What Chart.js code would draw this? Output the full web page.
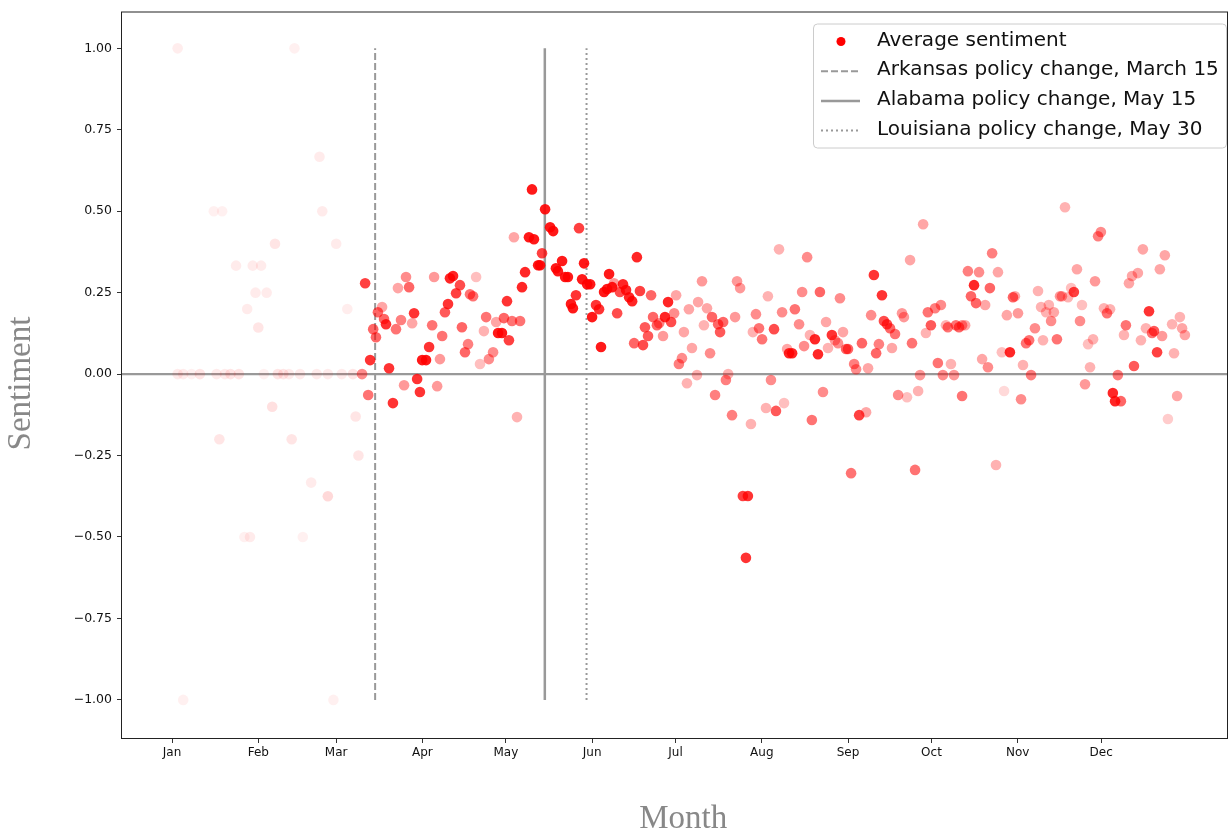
<!DOCTYPE html>
<html>
<head>
<meta charset="utf-8">
<title>Average sentiment by month</title>
<script src="https://cdn.jsdelivr.net/npm/chart.js@4.4.1/dist/chart.umd.min.js"></script>
<style>
  html, body { margin: 0; padding: 0; background: #fff; }
  #wrap { width: 1229px; height: 831px; }
</style>
</head>
<body>
<div id="wrap"><canvas id="sentimentChart" width="1229" height="831"></canvas></div>
<script>
// Day of year for each daily average
const days = [
  3, 3, 5, 5, 8, 11, 16, 17, 18, 19,
  20, 22, 24, 25, 27, 28, 29, 30, 31, 32,
  33, 34, 35, 37, 38, 39, 41, 43, 44, 45,
  47, 48, 51, 53, 54, 55, 57, 57, 59, 60,
  62, 64, 66, 67, 68,
  69.3, 70.4, 71.5, 72.2, 73.3, 74.3, 75.0, 76.5, 77.2, 77.9,
  79.0, 80.4, 81.5, 82.2, 83.3, 84.4, 85.1, 86.2, 87.3, 88.0,
  89.1, 90.1, 90.9, 92.3, 93.4, 94.5, 95.2, 96.3, 97.3, 98.1,
  99.1, 100.2, 100.9, 102.0, 103.1, 104.5, 105.2, 106.3, 107.4, 108.1,
  109.2, 110.3, 111.7, 113.1, 113.9, 114.9, 116.4, 117.5, 118.2, 119.6,
  120.3, 121.4, 122.1, 123.2, 123.9, 125.0, 126.1, 126.8, 127.9, 129.3,
  130.4, 131.1, 132.6, 133.3, 134.0, 135.1, 136.9, 138.0, 139.0, 139.7,
  141.2, 142.3, 143.3, 144.4, 145.1, 146.2, 147.3, 148.4, 149.1, 150.2,
  151.3, 152.0, 153.4, 154.5, 155.2, 156.3, 157.4, 158.1, 159.2, 159.9,
  161.0, 162.0, 163.1, 164.2, 165.3, 166.4, 167.1, 168.1, 169.2, 170.3,
  171.0, 172.1, 173.2, 173.9, 175.3, 176.1, 177.5, 178.2, 179.3, 180.4,
  181.5, 182.2, 183.2, 184.3, 185.0, 186.1, 186.8, 187.9, 189.7, 190.1,
  191.5, 192.2, 193.3, 194.4, 195.1, 196.2, 197.3, 198.0, 199.1, 200.1,
  200.9, 202.3, 203.4, 204.1, 205.2, 206.2, 207.3, 208.0, 209.1, 209.8,
  210.9, 212.0, 213.1, 214.5, 215.2, 216.3, 217.4, 218.1, 219.2, 220.3,
  221.0, 222.1, 222.8, 223.9, 224.9, 226.4, 227.5, 228.2, 229.3, 230.3,
  231.0, 232.1, 233.2, 233.9, 235.0, 236.1, 236.8, 238.2, 239.3, 240.4,
  241.1, 242.2, 243.3, 244.0, 245.1, 246.2, 246.9, 248.0, 249.0, 250.5,
  251.2, 252.3, 253.3, 254.1, 255.1, 256.2, 256.9, 258.0, 259.1, 259.8,
  260.9, 262.0, 263.4, 264.1, 265.2, 266.3, 267.0, 268.1, 269.2, 269.9,
  271.0, 272.0, 272.7, 273.8, 275.3, 276.3, 277.4, 278.1, 279.2, 279.9,
  281.0, 282.1, 282.8, 283.9, 285.0, 285.0, 286.1, 287.1, 288.2, 289.3,
  290.0, 291.1, 292.2, 293.3, 294.3, 295.0, 295.8, 297.2, 297.9, 299.3,
  300.1, 301.1, 302.2, 303.3, 304.0, 305.1, 306.2, 306.9, 308.0, 309.1,
  309.8, 311.2, 312.3, 313.4, 314.1, 315.2, 316.2, 317.0, 318.0, 319.1,
  320.2, 320.9, 322.0, 323.1, 324.2, 325.2, 326.3, 327.4, 328.1, 329.2,
  330.3, 331.0, 332.1, 332.8, 333.9, 334.9, 336.0, 337.1, 338.2, 339.2,
  340.0, 341.0, 342.1, 343.2, 343.9, 345.0, 346.1, 346.8, 348.2, 349.3,
  350.0, 351.1, 352.2, 353.3, 354.0, 355.1, 356.1, 356.9, 357.9, 359.0,
  360.5, 361.2, 362.3, 363.3, 364.1, 365.1
];

// Average sentiment for that day
const sentiment = [
  1.0, 0, 0, -1.0, 0, 0, 0.5, 0, -0.2, 0.5,
  0, 0, 0.333, 0, -0.5, 0.2, -0.5, 0.333, 0.25, 0.143,
  0.333, 0, 0.25, -0.1, 0.4, 0, 0, 0, -0.2, 1.0,
  0, -0.5, -0.333, 0, 0.667, 0.5, 0, -0.375, -1.0, 0.4,
  0, 0.2, 0, -0.13, -0.25,
  0.0, 0.279, -0.064, 0.043, 0.138, 0.113, 0.19, 0.206, 0.169, 0.153,
  0.018, -0.089, 0.138, 0.264, 0.166, -0.034, 0.298, 0.267, 0.156, 0.187,
  -0.015, -0.055, 0.043, 0.043, 0.083, 0.15, 0.298, -0.037, 0.046, 0.117,
  0.19, 0.215, 0.294, 0.301, 0.248, 0.273, 0.144, 0.067, 0.092, 0.245,
  0.239, 0.298, 0.031, 0.132, 0.175, 0.046, 0.067, 0.16, 0.126, 0.126,
  0.172, 0.224, 0.104, 0.163, 0.42, -0.132, 0.163, 0.267, 0.313, 0.42,
  0.567, 0.414, 0.334, 0.334, 0.371, 0.506, 0.451, 0.439, 0.325, 0.316,
  0.347, 0.298, 0.298, 0.215, 0.202, 0.242, 0.448, 0.291, 0.34, 0.276,
  0.276, 0.175, 0.212, 0.199, 0.083, 0.252, 0.261, 0.307, 0.267, 0.279,
  0.187, 0.252, 0.276, 0.258, 0.236, 0.224, 0.095, 0.359, 0.255, 0.089,
  0.144, 0.117, 0.242, 0.175, 0.15, 0.156, 0.117, 0.175, 0.221, 0.16,
  0.187, 0.242, 0.031, 0.049, 0.129, -0.028, 0.199, 0.08, -0.003, 0.221,
  0.285, 0.15, 0.202, 0.064, 0.175, -0.064, 0.153, 0.129, 0.16, -0.018,
  0, -0.126, 0.175, 0.285, 0.264, -0.374, -0.564, -0.374, -0.153, 0.129,
  0.184, 0.141, 0.107, -0.104, 0.239, -0.018, 0.138, -0.113, 0.383, 0.19,
  -0.089, 0.077, 0.064, 0.064, 0.199, 0.153, 0.252, 0.086, 0.359, 0.12,
  -0.141, 0.107, 0.061, 0.252, -0.055, 0.16, 0.08, 0.12, 0.104, 0.095,
  0.233, 0.129, 0.077, 0.077, -0.304, 0.031, 0.015, -0.126, 0.095, -0.117,
  0.018, 0.181, 0.304, 0.064, 0.092, 0.242, 0.163, 0.153, 0.141, 0.08,
  0.123, -0.064, 0.187, 0.175, -0.071, 0.35, 0.095, -0.294, -0.052, -0.003,
  0.46, 0.126, 0.19, 0.15, 0.202, 0.034, 0.212, -0.003, 0.15, 0.144,
  0.031, -0.003, 0.15, 0.144, 0.15, -0.067, 0.15, 0.316, 0.239, 0.273,
  0.218, 0.313, 0.046, 0.212, 0.021, 0.264, 0.371, -0.279, 0.313, 0.067,
  -0.052, 0.181, 0.067, 0.236, 0.239, 0.187, -0.077, 0.028, 0.095, 0.104,
  -0.003, 0.141, 0.255, 0.206, 0.104, 0.19, 0.212, 0.163, 0.19, 0.107,
  0.239, 0.239, 0.512, 0.236, 0.264, 0.252, 0.322, 0.163, 0.212, -0.031,
  0.092, 0.021, 0.107, 0.285, 0.423, 0.436, 0.202, 0.187, 0.199, -0.058,
  -0.083, -0.003, -0.083, 0.12, 0.15, 0.279, 0.301, 0.025, 0.31, 0.104,
  0.383, 0.141, 0.193, 0.126, 0.132, 0.067, 0.322, 0.117, 0.365, -0.138,
  0.153, 0.064, -0.067, 0.175, 0.141, 0.12
];

// Opacity of each dot (stronger = more tweets that day)
const dotAlpha = [
  0.07, 0.08, 0.08, 0.06, 0.06, 0.1, 0.06, 0.08, 0.1, 0.06,
  0.08, 0.1, 0.08, 0.1, 0.06, 0.08, 0.08, 0.08, 0.08, 0.1,
  0.08, 0.06, 0.08, 0.12, 0.1, 0.1, 0.1, 0.08, 0.1, 0.06,
  0.08, 0.06, 0.08, 0.08, 0.08, 0.08, 0.08, 0.15, 0.06, 0.08,
  0.08, 0.07, 0.1, 0.1, 0.1,
  0.45, 0.75, 0.55, 0.8, 0.6, 0.6, 0.6, 0.35, 0.6, 0.8,
  0.8, 0.8, 0.55, 0.35, 0.5, 0.4, 0.45, 0.6, 0.35, 0.8,
  0.8, 0.8, 0.9, 0.9, 0.8, 0.55, 0.4, 0.4, 0.4, 0.55,
  0.65, 0.8, 0.85, 0.85, 0.75, 0.7, 0.6, 0.6, 0.5, 0.55,
  0.55, 0.25, 0.25, 0.3, 0.55, 0.45, 0.45, 0.35, 0.9, 0.9,
  0.6, 0.8, 0.75, 0.55, 0.35, 0.3, 0.55, 0.85, 0.85, 0.9,
  0.9, 0.9, 0.9, 0.9, 0.75, 0.9, 0.9, 0.9, 0.9, 0.9,
  0.9, 0.9, 0.9, 0.9, 0.9, 0.8, 0.75, 0.9, 0.9, 0.9,
  0.9, 0.9, 0.8, 0.8, 0.9, 0.9, 0.9, 0.9, 0.9, 0.4,
  0.7, 0.7, 0.85, 0.85, 0.85, 0.85, 0.6, 0.85, 0.75, 0.7,
  0.65, 0.65, 0.6, 0.6, 0.6, 0.5, 0.4, 0.85, 0.85, 0.7,
  0.45, 0.35, 0.5, 0.45, 0.35, 0.3, 0.35, 0.35, 0.3, 0.35,
  0.4, 0.3, 0.35, 0.45, 0.6, 0.5, 0.6, 0.65, 0.6, 0.5,
  0.3, 0.5, 0.4, 0.4, 0.4, 0.75, 0.8, 0.8, 0.3, 0.3,
  0.45, 0.55, 0.55, 0.3, 0.3, 0.45, 0.7, 0.65, 0.3, 0.45,
  0.25, 0.35, 0.85, 0.85, 0.55, 0.45, 0.45, 0.45, 0.45, 0.3,
  0.55, 0.85, 0.85, 0.6, 0.45, 0.35, 0.3, 0.8, 0.4, 0.45,
  0.45, 0.35, 0.6, 0.6, 0.55, 0.5, 0.45, 0.75, 0.6, 0.35,
  0.35, 0.45, 0.8, 0.6, 0.5, 0.8, 0.7, 0.7, 0.6, 0.35,
  0.55, 0.45, 0.4, 0.4, 0.25, 0.35, 0.55, 0.55, 0.3, 0.4,
  0.35, 0.3, 0.55, 0.65, 0.5, 0.55, 0.45, 0.45, 0.3, 0.55,
  0.3, 0.4, 0.55, 0.6, 0.45, 0.55, 0.35, 0.5, 0.6, 0.85,
  0.6, 0.45, 0.35, 0.35, 0.45, 0.6, 0.5, 0.3, 0.35, 0.25,
  0.15, 0.35, 0.85, 0.6, 0.35, 0.4, 0.45, 0.3, 0.55, 0.55,
  0.5, 0.45, 0.3, 0.3, 0.3, 0.3, 0.3, 0.45, 0.35, 0.55,
  0.4, 0.4, 0.3, 0.3, 0.25, 0.75, 0.35, 0.45, 0.25, 0.4,
  0.25, 0.3, 0.3, 0.4, 0.5, 0.45, 0.3, 0.55, 0.3, 0.85,
  0.85, 0.5, 0.6, 0.3, 0.55, 0.35, 0.35, 0.65, 0.35, 0.3,
  0.35, 0.3, 0.8, 0.55, 0.65, 0.75, 0.35, 0.4, 0.35, 0.2,
  0.3, 0.3, 0.35, 0.3, 0.35, 0.35
];

// Axis ticks
const monthDays = [1, 32, 60, 91, 121, 152, 182, 213, 244, 274, 305, 335];
const monthLabels = ['Jan', 'Feb', 'Mar', 'Apr', 'May', 'Jun', 'Jul', 'Aug', 'Sep', 'Oct', 'Nov', 'Dec'];
const sentimentTicks = [-1, -0.75, -0.5, -0.25, 0, 0.25, 0.5, 0.75, 1];

// Policy changes (day of year)
const policyDays = [74, 135, 150];
const policyLabels = [
  'Arkansas policy change, March 15',
  'Alabama policy change, May 15',
  'Louisiana policy change, May 30'
];
const policyDash = [[7, 3], [], [2, 3]];

// Axis limits
const xLimits = [-17, 380.6];
const yLimits = [-1.117, 1.11];

const LINE_GREY = '#999999';

// Build scatter points
const points = days.map((d, i) => ({ x: d, y: sentiment[i] }));
const pointColors = dotAlpha.map(a => `rgba(255, 0, 0, ${a})`);

// Build policy line datasets
const policyDatasets = policyDays.map((d, i) => ({
    type: 'line',
    label: policyLabels[i],
    data: [{ x: d, y: -1 }, { x: d, y: 1 }],
    borderColor: LINE_GREY,
    borderWidth: i === 1 ? 2.5 : 2,
    borderDash: policyDash[i],
    pointRadius: 0,
    fill: false
}));

// Frame around the plot area
const framePlugin = {
    id: 'frame',
    afterDatasetsDraw(chart) {
        const a = chart.chartArea;
        const ctx = chart.ctx;
        ctx.save();
        ctx.strokeStyle = '#222';
        ctx.lineWidth = 1;
        ctx.strokeRect(a.left - 0.5, a.top - 0.5, a.right - a.left, a.bottom - a.top + 1);
        ctx.restore();
    }
};

// Legend box in the upper right corner
const legendBoxPlugin = {
    id: 'legendBox',
    afterDraw(chart) {
        const a = chart.chartArea;
        const ctx = chart.ctx;
        const bx = a.right - 415, by = a.top + 11, bw = 413, bh = 124;

        ctx.save();
        ctx.beginPath();
        ctx.roundRect(bx + 0.5, by + 0.5, bw, bh, 4);
        ctx.fillStyle = 'rgba(255,255,255,0.85)';
        ctx.fill();
        ctx.strokeStyle = '#cccccc';
        ctx.lineWidth = 1;
        ctx.stroke();

        const labels = ['Average sentiment'].concat(policyLabels);
        ctx.font = '20px "DejaVu Sans"';
        ctx.textBaseline = 'middle';
        ctx.fillStyle = '#111';

        labels.forEach((txt, i) => {
            const y = by + 17 + i * 29.7;
            if (i === 0) {
                ctx.beginPath();
                ctx.arc(bx + 28, y + 1, 4.5, 0, Math.PI * 2);
                ctx.fillStyle = '#ff0000';
                ctx.fill();
                ctx.fillStyle = '#111';
            } else {
                ctx.beginPath();
                ctx.setLineDash(policyDash[i - 1]);
                ctx.strokeStyle = LINE_GREY;
                ctx.lineWidth = i === 2 ? 2.5 : 2;
                ctx.moveTo(bx + 8, y + 1);
                ctx.lineTo(bx + 47, y + 1);
                ctx.stroke();
                ctx.setLineDash([]);
            }
            ctx.fillText(txt, bx + 64, y);
        });
        ctx.restore();
    }
};

const ctx = document.getElementById('sentimentChart').getContext('2d');
new Chart(ctx, {
    type: 'scatter',
    data: {
        datasets: [
            {
                label: 'Average sentiment',
                data: points,
                backgroundColor: pointColors,
                borderWidth: 0,
                pointRadius: 5.3,
                pointHoverRadius: 5.3
            },
            ...policyDatasets,
            {
                type: 'line',
                label: 'zero',
                data: [{ x: xLimits[0], y: 0 }, { x: xLimits[1], y: 0 }],
                borderColor: LINE_GREY,
                borderWidth: 2.2,
                pointRadius: 0,
                fill: false
            }
        ]
    },
    options: {
        responsive: false,
        animation: false,
        layout: { autoPadding: false, padding: { top: 12, right: 1, left: 0, bottom: 0 } },
        plugins: {
            legend: { display: false },
            tooltip: { enabled: false }
        },
        scales: {
            x: {
                type: 'linear',
                min: xLimits[0],
                max: xLimits[1],
                afterBuildTicks: s => { s.ticks = monthDays.map(v => ({ value: v })); },
                afterFit: s => { s.height = 93; },
                border: { display: false },
                grid: { drawOnChartArea: false, drawTicks: true, tickLength: 5, color: '#333' },
                ticks: {
                    autoSkip: false,
                    maxRotation: 0,
                    padding: 3,
                    color: '#111',
                    font: { family: 'DejaVu Sans', size: 12 },
                    callback: (v, i) => monthLabels[i]
                },
                title: {
                    display: true,
                    text: '  Month',
                    color: '#888',
                    font: { family: 'Liberation Serif', size: 33, lineHeight: 0.7 },
                    padding: { top: 0, bottom: 0 }
                }
            },
            y: {
                min: yLimits[0],
                max: yLimits[1],
                afterBuildTicks: s => { s.ticks = sentimentTicks.map(v => ({ value: v })); },
                afterFit: s => { s.width = 122; },
                border: { display: false },
                grid: { drawOnChartArea: false, drawTicks: true, tickLength: 5, color: '#333' },
                ticks: {
                    padding: 5,
                    color: '#111',
                    font: { family: 'DejaVu Sans', size: 12.5 },
                    callback: v => (v < 0 ? '\u2212' : '') + Math.abs(v).toFixed(2)
                },
                title: {
                    display: true,
                    text: 'Sentiment  ',
                    color: '#888',
                    font: { family: 'Liberation Serif', size: 33, lineHeight: 0.7 },
                    padding: { top: 10, bottom: 0 }
                }
            }
        }
    },
    plugins: [framePlugin, legendBoxPlugin]
});
</script>
</body>
</html>
